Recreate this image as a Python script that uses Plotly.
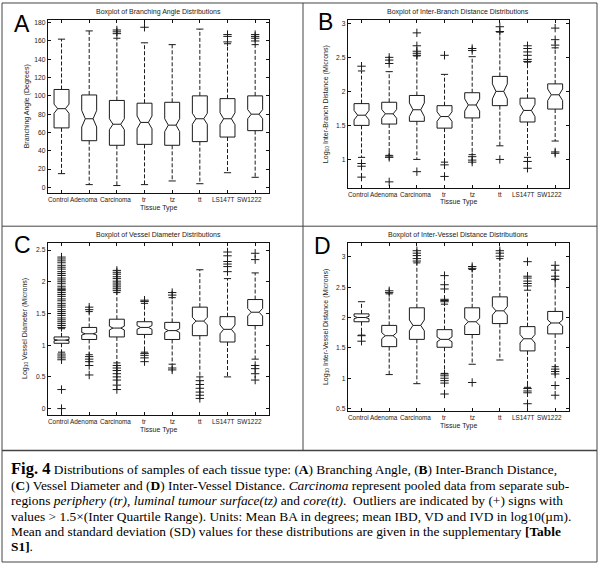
import plotly.graph_objects as go

categories = ["Control", "Adenoma", "Carcinoma", "tr", "tz", "tt", "LS147T", "SW1222"]

# ---------- Panel A: Branching Angle (degrees) ----------
ba_lower = [15, 3, 2, 3, 7, 4, 16, 11]
ba_q1 = [65, 51, 46, 47, 46, 50, 55, 62]
ba_median = [86, 75, 69, 71, 68, 75, 75, 80]
ba_q3 = [107, 101, 95, 92, 93, 100, 97, 100]
ba_upper = [162, 171, 163, 158, 156, 173, 157, 156]
ba_notch = [5, 9, 6, 7, 7, 6, 6.5, 5]
ba_outliers = [[], [], [168, 170, 172], [175], [], [], [159, 165, 167], [160, 163, 165, 167]]

# ---------- Panel B: log10 Inter-Branch Distance ----------
ibd_lower = [1.03, 1.06, 1.0, 0.96, 1.07, 1.2, 1.03, 1.27]
ibd_q1 = [1.50, 1.52, 1.56, 1.46, 1.61, 1.79, 1.55, 1.74]
ibd_median = [1.65, 1.67, 1.73, 1.63, 1.80, 2.00, 1.72, 1.95]
ibd_q3 = [1.82, 1.84, 1.94, 1.79, 1.98, 2.22, 1.90, 2.11]
ibd_upper = [2.30, 2.29, 2.52, 2.25, 2.51, 2.87, 2.43, 2.64]
ibd_notch = [0.07, 0.065, 0.1, 0.07, 0.09, 0.11, 0.09, 0.085]
ibd_outliers = [
    [2.37, 0.94, 0.90, 0.74],
    [2.50, 2.46, 2.41, 1.05, 1.03, 0.67],
    [2.86, 2.67, 2.59, 2.56, 2.53, 0.82],
    [2.53, 0.92, 0.75],
    [2.63, 2.60, 1.04, 0.99, 0.96],
    [2.95, 2.88, 1.0],
    [2.67, 2.63, 2.58, 2.53, 2.47, 2.44, 0.97, 0.87],
    [2.93, 2.76, 2.68, 1.11, 1.09],
]

# ---------- Panel C: log10 Vessel Diameter ----------
vd_lower = [0.89, 0.85, 0.72, 0.89, 0.70, 0.50, 0.50, 0.78]
vd_q1 = [1.03, 1.09, 1.13, 1.17, 1.09, 1.15, 1.05, 1.31]
vd_median = [1.08, 1.18, 1.27, 1.28, 1.23, 1.38, 1.25, 1.52]
vd_q3 = [1.13, 1.28, 1.41, 1.37, 1.36, 1.60, 1.45, 1.72]
vd_upper = [1.26, 1.53, 1.83, 1.66, 1.75, 2.19, 2.05, 2.14]
vd_notch = [0.01, 0.02, 0.03, 0.03, 0.03, 0.06, 0.07, 0.06]
vd_outliers = [
    [1.28, 1.31, 1.34, 1.37, 1.40, 1.43, 1.47, 1.50, 1.53, 1.56, 1.60, 1.63, 1.66,
     1.70, 1.73, 1.77, 1.80, 1.83, 1.86, 1.88, 1.90, 1.93, 1.97, 2.00, 2.03, 2.06,
     2.10, 2.13, 2.16, 2.20, 2.23, 2.26, 2.30, 2.33, 2.36, 2.39,
     0.86, 0.83, 0.80, 0.77, 0.30, 0.0],
    [1.60, 1.56, 0.82, 0.78, 0.74, 0.68, 0.53],
    [1.86, 1.89, 1.92, 1.95, 1.98, 2.01, 2.05, 2.08, 2.12, 2.15, 2.18,
     0.68, 0.64, 0.60, 0.55, 0.50, 0.45, 0.37, 0.30],
    [1.71, 1.69, 0.87, 0.84, 0.80, 0.74],
    [1.83, 1.79, 0.64, 0.61],
    [0.44, 0.38, 0.32, 0.26, 0.21, 0.16],
    [2.47, 2.41, 2.32, 2.28, 2.24, 2.16],
    [2.45, 2.35, 0.68, 0.63, 0.55, 0.45],
]

# ---------- Panel D: log10 Inter-Vessel Distance ----------
ivd_lower = [1.71, 1.06, 0.91, 1.08, 1.23, 1.30, 0.85, 1.19]
ivd_q1 = [1.93, 1.52, 1.64, 1.51, 1.72, 1.90, 1.45, 1.73]
ivd_median = [2.00, 1.70, 1.87, 1.64, 1.93, 2.11, 1.65, 1.91]
ivd_q3 = [2.06, 1.87, 2.16, 1.80, 2.16, 2.34, 1.85, 2.10]
ivd_upper = [2.26, 2.39, 2.90, 2.22, 2.79, 2.97, 2.45, 2.63]
ivd_notch = [0.02, 0.05, 0.09, 0.04, 0.06, 0.07, 0.07, 0.05]
ivd_outliers = [
    [1.70, 1.61],
    [2.44, 2.41],
    [3.10, 3.06, 3.02, 2.97, 2.93],
    [2.69, 2.54, 2.47, 2.30, 2.28, 2.26, 1.07, 1.04, 1.00, 0.96, 0.92, 0.74],
    [2.84, 2.81, 0.93],
    [3.10, 3.06, 3.01],
    [2.92, 2.68, 2.65, 2.60, 2.56, 2.52, 0.83, 0.79, 0.76, 0.58],
    [2.86, 2.78, 2.68, 2.63, 1.15, 1.11, 1.07, 0.88, 0.72],
]

# ---------- figure geometry (pixels) ----------
FW, FH = 600, 567
W, WN, WC = 0.27, 0.14, 0.13   # box half width, notch inner half width, cap half width
INK = "#1a1a1a"
LABEL_SHIFT = [-3.5, -4.7, -1.5, 0, 0, 0, -5, -6]   # MATLAB-style label offsets (px)


def px(x):
    return x / FW


def py(y):
    return 1 - y / FH


panels = [
    dict(name="A", x0=47.7, x1=269, y0=19, y1=193,
         data=(ba_lower, ba_q1, ba_median, ba_q3, ba_upper, ba_notch, ba_outliers),
         yrange=[-6.5, 183], ytick=[0, 20, 40, 60, 80, 100, 120, 140, 160, 180],
         title="Boxplot of Branching Angle Distributions", title_y=11,
         ylabel="Branching Angle (Degrees)", ylab_x=26.7, xlab_y=207.5,
         letter_xy=(22, 23)),
    dict(name="B", x0=347.7, x1=569, y0=19, y1=188,
         data=(ibd_lower, ibd_q1, ibd_median, ibd_q3, ibd_upper, ibd_notch, ibd_outliers),
         yrange=[0.575, 3.05], ytick=[1, 1.5, 2, 2.5, 3],
         title="Boxplot of Inter-Branch Distance Distributions", title_y=11,
         ylabel="Log<sub>10</sub> Inter-Branch Distance (Microns)", ylab_x=326, xlab_y=202,
         letter_xy=(325, 21)),
    dict(name="C", x0=47.7, x1=269, y0=243.3, y1=415,
         data=(vd_lower, vd_q1, vd_median, vd_q3, vd_upper, vd_notch, vd_outliers),
         yrange=[-0.094, 2.605], ytick=[0, 0.5, 1, 1.5, 2, 2.5],
         title="Boxplot of Vessel Diameter Distributions", title_y=235,
         ylabel="Log<sub>10</sub> Vessel Diameter (Microns)", ylab_x=25, xlab_y=431,
         letter_xy=(22, 245)),
    dict(name="D", x0=347.7, x1=569, y0=242.7, y1=411.7,
         data=(ivd_lower, ivd_q1, ivd_median, ivd_q3, ivd_upper, ivd_notch, ivd_outliers),
         yrange=[0.456, 3.23], ytick=[0.5, 1, 1.5, 2, 2.5, 3],
         title="Boxplot of Inter-Vessel Distance Distributions", title_y=235,
         ylabel="Log<sub>10</sub> Inter-Vessel Distance (Microns)", ylab_x=326, xlab_y=427,
         letter_xy=(322, 246)),
]

fig = go.Figure()
annotations = []
font_small = dict(family="Liberation Sans, Arial", size=7, color="#222")
font_tick = dict(family="Liberation Sans, Arial", size=6.4, color="#222")

for k, p in enumerate(panels):
    suffix = "" if k == 0 else str(k + 1)
    xa, ya = "x" + suffix, "y" + suffix
    lower, q1, med, q3, upper, notch, outl = p["data"]
    bx, by, mx, my, wx, wy, cx, cy, ox, oy = [], [], [], [], [], [], [], [], [], []
    for i in range(len(categories)):
        x = i + 1
        lo_n, hi_n = med[i] - notch[i], med[i] + notch[i]
        bx += [x - W, x - W, x - WN, x - W, x - W, x + W, x + W, x + WN, x + W, x + W, x - W, None]
        by += [q1[i], lo_n, med[i], hi_n, q3[i], q3[i], hi_n, med[i], lo_n, q1[i], q1[i], None]
        mx += [x - WN, x + WN, None]
        my += [med[i], med[i], None]
        wx += [x, x, None, x, x, None]
        wy += [q3[i], upper[i], None, q1[i], lower[i], None]
        cx += [x - WC, x + WC, None, x - WC, x + WC, None]
        cy += [upper[i], upper[i], None, lower[i], lower[i], None]
        for v in outl[i]:
            ox.append(x)
            oy.append(v)
    common = dict(xaxis=xa, yaxis=ya, showlegend=False, hoverinfo="skip")
    fig.add_trace(go.Scatter(x=wx, y=wy, mode="lines",
                             line=dict(color=INK, width=1, dash="4px,2px"), **common))
    fig.add_trace(go.Scatter(x=cx, y=cy, mode="lines", line=dict(color=INK, width=1), **common))
    fig.add_trace(go.Scatter(x=bx, y=by, mode="lines", line=dict(color=INK, width=1), **common))
    fig.add_trace(go.Scatter(x=mx, y=my, mode="lines", line=dict(color=INK, width=1), **common))
    fig.add_trace(go.Scatter(x=ox, y=oy, mode="markers",
                             marker=dict(symbol="cross-thin", size=6, color=INK,
                                         line=dict(color=INK, width=1)), **common))

    axis_common = dict(showline=True, linecolor="#111", linewidth=1, mirror="ticks",
                       ticks="inside", ticklen=3, tickcolor="#111", showgrid=False,
                       zeroline=False, tickfont=dict(family="Liberation Sans, Arial", size=6.7, color="#222"))
    fig.update_layout(**{
        "xaxis" + suffix: dict(domain=[px(p["x0"]), px(p["x1"])], range=[0.5, 8.5],
                               tickvals=list(range(1, 9)), showticklabels=False,
                               anchor=ya, **axis_common),
        "yaxis" + suffix: dict(domain=[py(p["y1"]), py(p["y0"])], range=p["yrange"],
                               tickvals=p["ytick"], anchor=xa, **axis_common),
    })
    # category labels (placed like MATLAB's boxplot text labels)
    for i, cat in enumerate(categories):
        annotations.append(dict(text=cat, x=i + 1, xref=xa, y=py(p["y1"] + 6.6), yref="paper",
                                xshift=LABEL_SHIFT[i], showarrow=False, font=font_tick,
                                xanchor="center", yanchor="middle"))
    cxm = (p["x0"] + p["x1"]) / 2
    cym = (p["y0"] + p["y1"]) / 2
    annotations += [
        dict(text=p["title"], x=px(cxm), y=py(p["title_y"]), xref="paper", yref="paper",
             showarrow=False, font=font_small, xanchor="center", yanchor="middle"),
        dict(text=p["ylabel"], x=px(p["ylab_x"]), y=py(cym), xref="paper", yref="paper",
             showarrow=False, font=font_small, textangle=-90, xanchor="center", yanchor="middle"),
        dict(text="Tissue Type", x=px(cxm), y=py(p["xlab_y"]), xref="paper", yref="paper",
             showarrow=False, font=font_small, xanchor="center", yanchor="middle"),
        dict(text=p["name"], x=px(p["letter_xy"][0]), y=py(p["letter_xy"][1]), xref="paper",
             yref="paper", showarrow=False,
             font=dict(family="Liberation Sans, Arial", size=23, color="#000"),
             xanchor="center", yanchor="middle"),
    ]

# ---------- caption ----------
caption_lines = [
    "<span style='font-size:16.5px'><b>Fig. 4</b></span> Distributions of samples of each tissue type: (<b>A</b>) Branching Angle, (<b>B</b>) Inter-Branch Distance,",
    "(<b>C</b>) Vessel Diameter and (<b>D</b>) Inter-Vessel Distance. <i>Carcinoma</i> represent pooled data from separate sub-",
    "regions <i>periphery (tr)</i>, <i>luminal tumour surface(tz)</i> and <i>core(tt)</i>.  Outliers are indicated by (+) signs with",
    "values &gt; 1.5×(Inter Quartile Range). Units: Mean BA in degrees; mean IBD, VD and IVD in log10(µm).",
    "Mean and standard deviation (SD) values for these distributions are given in the supplementary <b>[Table</b>",
    "<b>S1]</b>.",
]
caption_y = [469.5, 486, 501.7, 517, 532.7, 547]
for line, yv in zip(caption_lines, caption_y):
    annotations.append(dict(text=line, x=px(9), y=py(yv), xref="paper", yref="paper",
                            showarrow=False, xanchor="left", yanchor="middle",
                            font=dict(family="Liberation Serif, Times New Roman", size=13.4, color="#000")))

# ---------- frame lines ----------
frame = "#444"
shapes = [
    dict(type="rect", xref="paper", yref="paper", x0=px(2), x1=px(597), y0=py(563), y1=py(2),
         line=dict(color=frame, width=1)),
    dict(type="line", xref="paper", yref="paper", x0=px(303), x1=px(303), y0=py(451), y1=py(2),
         line=dict(color=frame, width=1)),
    dict(type="line", xref="paper", yref="paper", x0=px(2), x1=px(597), y0=py(226), y1=py(226),
         line=dict(color=frame, width=1)),
    dict(type="line", xref="paper", yref="paper", x0=px(2), x1=px(597), y0=py(451), y1=py(451),
         line=dict(color=frame, width=1.5)),
]

fig.update_layout(width=FW, height=FH, autosize=False,
                  margin=dict(l=0, r=0, t=0, b=0),
                  paper_bgcolor="white", plot_bgcolor="white",
                  annotations=annotations, shapes=shapes)

fig.write_html("out.html", config={"displayModeBar": False},
               post_script="document.body.style.margin='0px';document.body.style.overflow='hidden';")
